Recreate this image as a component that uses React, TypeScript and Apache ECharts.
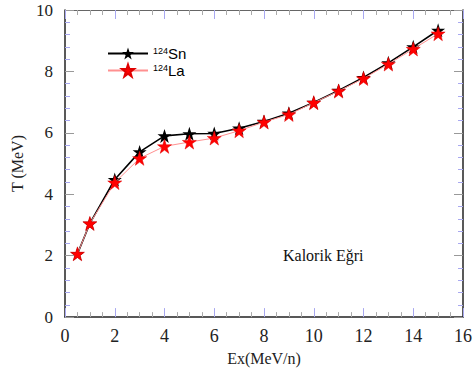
import React, { useEffect, useRef } from "react";
import * as echarts from "echarts";

const ex = [0.5, 1, 2, 3, 4, 5, 6, 7, 8, 9, 10, 11, 12, 13, 14, 15];
const tSn = [2.06, 3.05, 4.48, 5.38, 5.9, 5.97, 5.98, 6.15, 6.37, 6.64, 6.99, 7.38, 7.8, 8.28, 8.8, 9.34];
const tLa = [2.06, 3.05, 4.38, 5.17, 5.56, 5.7, 5.83, 6.07, 6.35, 6.6, 6.98, 7.36, 7.77, 8.24, 8.73, 9.23];
const seriesNames = ["124Sn", "124La"];
const annotation = "Kalorik Eğri";

const STAR = "path://M50,0 L61.8,35.1 L98.1,35.1 L68.8,56.8 L79.4,91.5 L50,70.2 L20.6,91.5 L31.2,56.8 L1.9,35.1 L38.2,35.1 Z";

export default function App() {
  const ref = useRef<HTMLDivElement>(null);
  useEffect(() => {
    const chart = echarts.init(ref.current!, null, { renderer: "svg" });
    const serif = "Liberation Serif, Times New Roman, serif";
    const axisCommon = {
      type: "value" as const,
      splitLine: { show: false },
    };
    chart.setOption({
      animation: false,
      backgroundColor: "#fff",
      grid: { left: 65, right: 10, top: 10, bottom: 49 },
      legend: {
        data: seriesNames,
        orient: "vertical",
        left: 102,
        top: 41,
        itemWidth: 40,
        itemHeight: 15,
        itemGap: 2,
        formatter: (n: string) => `{s|${n.slice(0, 3)}}{b|${n.slice(3)}}`,
        textStyle: {
          fontFamily: "Liberation Sans, Arial, sans-serif",
          rich: {
            s: { fontSize: 9, verticalAlign: "top", lineHeight: 10, padding: [0, 0, 6, 0], fontFamily: "Liberation Sans, Arial, sans-serif", color: "#000" },
            b: { fontSize: 15, fontFamily: "Liberation Sans, Arial, sans-serif", color: "#000" },
          },
        },
      },
      xAxis: [
        {
          ...axisCommon,
          min: 0,
          max: 16,
          interval: 2,
          position: "bottom",
          axisLine: { show: true, onZero: false, lineStyle: { color: "#222", width: 1.5 } },
          name: "Ex(MeV/n)",
          nameLocation: "middle",
          nameGap: 25,
          nameTextStyle: { fontFamily: serif, fontSize: 16, color: "#222" },
          axisTick: { show: true, inside: true, length: 9, lineStyle: { color: "#a8a8f0" } },
          minorTick: { show: true, splitNumber: 4, length: 5, lineStyle: { color: "#aaa" } },
          axisLabel: { fontFamily: serif, fontSize: 18, color: "#222", margin: 10 },
        },
        {
          ...axisCommon,
          min: 0,
          max: 16,
          interval: 2,
          position: "top",
          axisLine: { show: true, onZero: false, lineStyle: { color: "#666", width: 1.2 } },
          axisTick: { show: true, inside: true, length: 9, lineStyle: { color: "#a8a8f0" } },
          minorTick: { show: true, splitNumber: 4, length: 5, lineStyle: { color: "#aaa" } },
          axisLabel: { show: false },
        },
      ],
      yAxis: [
        {
          ...axisCommon,
          min: 0,
          max: 10,
          interval: 2,
          position: "left",
          axisLine: { show: true, onZero: false, lineStyle: { color: "#222", width: 1.5 } },
          name: "T (MeV)",
          nameLocation: "middle",
          nameGap: 38,
          nameTextStyle: { fontFamily: serif, fontSize: 16, color: "#222" },
          axisTick: { show: true, inside: true, length: 9, lineStyle: { color: "#999" } },
          minorTick: { show: true, splitNumber: 5, length: 5, lineStyle: { color: "#a8a8f0" } },
          axisLabel: { fontFamily: serif, fontSize: 17, color: "#222", margin: 12 },
        },
        {
          ...axisCommon,
          min: 0,
          max: 10,
          interval: 2,
          position: "right",
          axisLine: { show: true, onZero: false, lineStyle: { color: "#222", width: 1.5 } },
          axisTick: { show: true, inside: true, length: 9, lineStyle: { color: "#999" } },
          minorTick: { show: true, splitNumber: 5, length: 5, lineStyle: { color: "#a8a8f0" } },
          axisLabel: { show: false },
        },
      ],
      graphic: [
        {
          type: "text",
          left: 283,
          top: 247,
          style: { text: annotation, font: `16px ${serif}`, fill: "#111" },
        },
      ],
      series: [
        {
          name: seriesNames[0],
          type: "line",
          data: ex.map((x, i) => [x, tSn[i]]),
          symbol: STAR,
          symbolSize: 14,
          lineStyle: { color: "#000", width: 1.6 },
          itemStyle: { color: "#000" },
          z: 2,
        },
        {
          name: seriesNames[1],
          type: "line",
          data: ex.map((x, i) => [x, tLa[i]]),
          symbol: STAR,
          symbolSize: 14,
          lineStyle: { color: "#ff9090", width: 1 },
          itemStyle: { color: "#ff0000", borderColor: "#e00000", borderWidth: 0.5 },
          z: 3,
        },
      ],
    });
    return () => chart.dispose();
  }, []);
  return <div ref={ref} style={{ width: 475, height: 371, position: "absolute", left: 0, top: 0 }} />;
}
